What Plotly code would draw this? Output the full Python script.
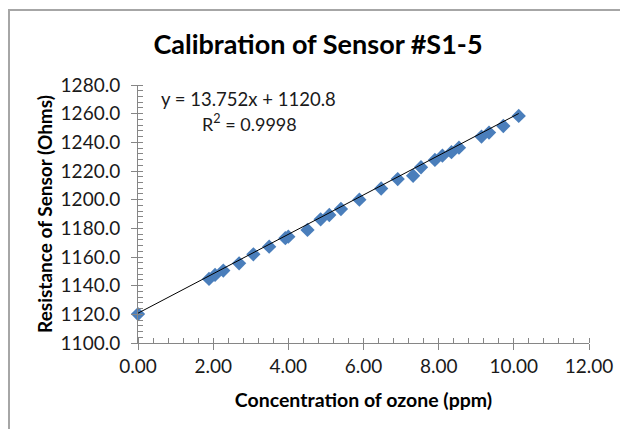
import plotly.graph_objects as go

# ---- data ----
ozone_ppm = [0.00, 1.89, 2.05, 2.27, 2.69, 3.07, 3.49, 3.92, 4.00, 4.51, 4.86, 5.09, 5.40,
             5.89, 6.47, 6.91, 7.32, 7.53, 7.90, 8.10, 8.34, 8.54, 9.14, 9.34, 9.72, 10.13]
resistance_ohm = [1120.2, 1144.7, 1147.5, 1150.5, 1155.6, 1161.9, 1167.2, 1173.1, 1174.2,
                  1178.9, 1186.3, 1189.3, 1193.5, 1200.0, 1207.8, 1214.4, 1216.7, 1222.6,
                  1227.7, 1230.7, 1233.1, 1236.3, 1244.0, 1246.8, 1251.4, 1258.4]
slope = 13.752
intercept = 1120.8
r_squared = 0.9998

x_ticks = [0, 2, 4, 6, 8, 10, 12]
x_tick_labels = ["0.00", "2.00", "4.00", "6.00", "8.00", "10.00", "12.00"]
y_ticks = [1100, 1120, 1140, 1160, 1180, 1200, 1220, 1240, 1260, 1280]
y_tick_labels = ["1100.0", "1120.0", "1140.0", "1160.0", "1180.0", "1200.0",
                 "1220.0", "1240.0", "1260.0", "1280.0"]

trend_x = [min(ozone_ppm), max(ozone_ppm)]
trend_y = [slope * v + intercept for v in trend_x]

FONT = "Lato"
AXIS_GRAY = "#868686"
TEXT = "#1a1a1a"

# page body has an 8px default margin; figure is sized to fit the 628x429 window
W, H = 620, 421

fig = go.Figure()
fig.add_trace(go.Scatter(
    x=trend_x, y=trend_y, mode="lines", xaxis="x2", yaxis="y2",
    line=dict(color="#000000", width=1), showlegend=False))
fig.add_trace(go.Scatter(
    x=ozone_ppm, y=resistance_ohm, mode="markers", cliponaxis=False,
    marker=dict(symbol="diamond", size=11, color="#4A7EBB"),
    showlegend=False, hoverinfo="x+y"))

common = dict(showgrid=False, zeroline=False, automargin=False)
fig.update_layout(
    width=W, height=H,
    margin=dict(l=130, r=39, t=77, b=86),
    paper_bgcolor="white", plot_bgcolor="white",
    font=dict(family=FONT, color=TEXT),
    title=dict(text="<b>Calibration of Sensor #S1-5</b>", x=0.5, xanchor="center",
               y=1 - 37 / H, yanchor="middle", yref="container",
               font=dict(family=FONT, size=27, color="#000000")),
    xaxis=dict(range=[0, 12], tickmode="array", tickvals=x_ticks, ticktext=x_tick_labels,
               showline=True, linecolor=AXIS_GRAY, linewidth=1,
               ticks="outside", ticklen=6, tickcolor=AXIS_GRAY,
               minor=dict(dtick=0.4, ticks="inside", ticklen=5, tickcolor=AXIS_GRAY),
               tickfont=dict(family=FONT, size=19, color=TEXT),
               title=dict(text="<b>Concentration of ozone (ppm)</b>", standoff=17,
                          font=dict(family=FONT, size=19.5, color="#000000")),
               **common),
    yaxis=dict(range=[1100, 1280], tickmode="array", tickvals=y_ticks, ticktext=y_tick_labels,
               showline=True, linecolor=AXIS_GRAY, linewidth=1,
               ticks="outside", ticklen=6, tickcolor=AXIS_GRAY, ticklabelstandoff=7,
               minor=dict(dtick=4, ticks="inside", ticklen=5, tickcolor=AXIS_GRAY),
               tickfont=dict(family=FONT, size=19, color=TEXT),
               title=dict(text="<b>Resistance of Sensor (Ohms)</b>", standoff=2,
                          font=dict(family=FONT, size=19, color="#000000")),
               **common),
    xaxis2=dict(range=[0, 12], overlaying="x", side="bottom", tickmode="array",
                tickvals=x_ticks, showticklabels=False, ticks="inside", ticklen=5,
                tickcolor=AXIS_GRAY, showline=False, **common),
    yaxis2=dict(range=[1100, 1280], overlaying="y", side="left", tickmode="array",
                tickvals=y_ticks, showticklabels=False, ticks="inside", ticklen=5,
                tickcolor=AXIS_GRAY, showline=False, **common),
    annotations=[
        dict(text=f"y = {slope}x + {intercept}", xref="paper", yref="paper",
             x=0.244, y=0.946, xanchor="center", yanchor="middle", showarrow=False,
             font=dict(family=FONT, size=18.5, color=TEXT)),
        dict(text=f"R<sup>2</sup> = {r_squared}", xref="paper", yref="paper",
             x=0.247, y=0.853, xanchor="center", yanchor="middle", showarrow=False,
             font=dict(family=FONT, size=18, color=TEXT)),
    ],
    shapes=[dict(type="rect", xref="paper", yref="paper",
                 x0=(9 - 138) / 451, x1=3, y0=-3, y1=(343 - 10) / 258,
                 line=dict(color="#A6A6A6", width=2), fillcolor="rgba(0,0,0,0)",
                 layer="below")],
)

fig.write_html("out.html")
